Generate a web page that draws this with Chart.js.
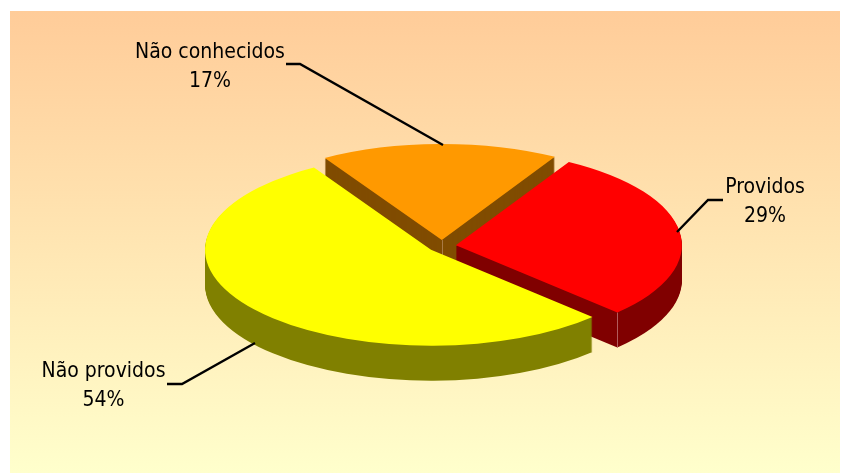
<!DOCTYPE html>
<html>
<head>
<meta charset="utf-8">
<style>
  html, body { margin: 0; background: #fff; }
  canvas { display: block; }
</style>
<script src="https://cdn.jsdelivr.net/npm/chart.js@4"></script>
</head>
<body>
<canvas id="chart" width="841" height="473"></canvas>
<script>
"use strict"

const labels = ["Providos", "Não providos", "Não conhecidos"]
const values = [29, 54, 17]
const topColors = ["#ff0000", "#ffff00", "#ff9900"]
const wallColors = ["#800000", "#808000", "#804c00"]

// fake 3d look
const squash = 0.425
const depth = 35
const explode = 14
const wallOrder = [2, 0, 1]

// label text centre, first baseline, then the leader line
const labelLayout = [
  {x: 765, y: 193, line: [[723, 200], [708, 200], [677, 232]]},
  {x: 103.5, y: 377, line: [[167, 384], [182, 384], [255, 343]]},
  {x: 210, y: 58, line: [[286, 64], [300, 64], [443, 145]]}
]

const slicePath = (ctx, a) => {
  ctx.beginPath()
  ctx.moveTo(a.x, a.y)
  ctx.arc(a.x, a.y, a.outerRadius, a.startAngle, a.endAngle)
  ctx.closePath()
}

const squashAround = (ctx, cy, dy) => {
  ctx.translate(0, cy + dy)
  ctx.scale(1, squash)
  ctx.translate(0, -cy)
}

const seam = (ctx, x, y, color) => {
  ctx.strokeStyle = color
  ctx.lineWidth = 1
  ctx.beginPath()
  ctx.moveTo(Math.round(x) + 0.5, y)
  ctx.lineTo(Math.round(x) + 0.5, y + depth)
  ctx.stroke()
}

const pie3d = {
  id: "pie3d",
  beforeDraw(chart) {
    const ctx = chart.ctx
    const g = ctx.createLinearGradient(0, 11, 0, 473)
    g.addColorStop(0, "#ffcc99")
    g.addColorStop(1, "#ffffcc")
    ctx.save()
    ctx.fillStyle = g
    ctx.fillRect(10, 11, 830, 462)
    ctx.restore()
  },
  afterDatasetsUpdate(chart) {
    chart.getDatasetMeta(0).data.forEach(a => {
      const mid = (a.startAngle + a.endAngle) / 2
      a.x += Math.cos(mid) * explode
      a.y += Math.sin(mid) * explode
    })
  },
  beforeDatasetsDraw(chart) {
    const ctx = chart.ctx
    const arcs = chart.getDatasetMeta(0).data
    const cy = (chart.chartArea.top + chart.chartArea.bottom) / 2
    wallOrder.forEach(i => {
      const a = arcs[i]
      ctx.fillStyle = wallColors[i]
      for (let d = depth; d > 0; d--) {
        ctx.save()
        squashAround(ctx, cy, d)
        slicePath(ctx, a)
        ctx.fill()
        ctx.restore()
      }
      // pale seams where two walls meet
      if (i == 2) seam(ctx, a.x, cy + (a.y - cy) * squash, "#a87a45")
      if (i == 0) {
        const sx = a.x + Math.cos(a.endAngle) * a.outerRadius
        const sy = cy + (a.y + Math.sin(a.endAngle) * a.outerRadius - cy) * squash
        seam(ctx, sx, sy, "#b25c5c")
      }
    })
    ctx.save()
    squashAround(ctx, cy, 0)
  },
  afterDatasetsDraw(chart) {
    const ctx = chart.ctx
    ctx.restore()
    ctx.save()
    ctx.fillStyle = "#000"
    ctx.strokeStyle = "#000"
    ctx.lineWidth = 2.4
    ctx.textAlign = "center"
    ctx.textBaseline = "alphabetic"
    ctx.font = "21px 'DejaVu Sans Condensed'"
    labels.forEach((name, i) => {
      const l = labelLayout[i]
      ctx.fillText(name, l.x, l.y)
      ctx.fillText(values[i] + "%", l.x, l.y + 28.5)
      ctx.beginPath()
      l.line.forEach((p, k) => k ? ctx.lineTo(p[0], p[1]) : ctx.moveTo(p[0], p[1]))
      ctx.stroke()
    })
    ctx.restore()
  }
}

new Chart("chart", {
  type: "pie",
  data: {
    labels: labels,
    datasets: [{data: values, backgroundColor: topColors, borderWidth: 0}]
  },
  options: {
    responsive: false,
    animation: false,
    events: [],
    rotation: 30,
    radius: 226,
    layout: {padding: {left: 43, top: 19}},
    plugins: {legend: {display: false}, tooltip: {enabled: false}}
  },
  plugins: [pie3d]
})
</script>
</body>
</html>
